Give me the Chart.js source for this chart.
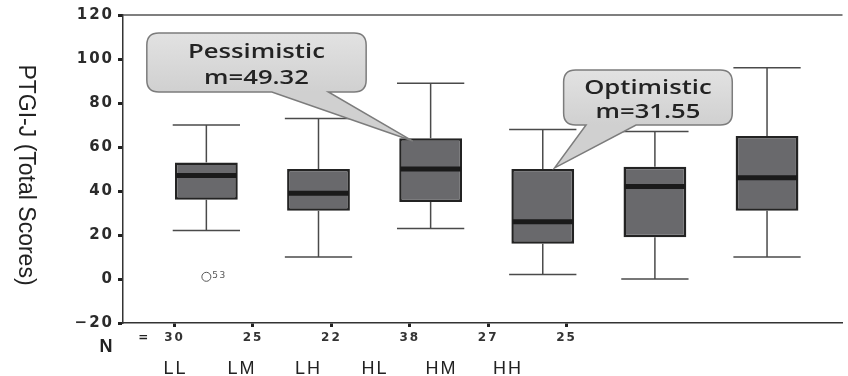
<!DOCTYPE html>
<html><head><meta charset="utf-8">
<script src="https://cdn.jsdelivr.net/npm/chart.js@4.4.1/dist/chart.umd.min.js"></script>
<style>html,body{margin:0;padding:0;background:#fff;}canvas{display:block;}</style>
</head><body>
<canvas id="c" width="848" height="376"></canvas>
<script>
// ---- data ----
const groups = ['LL', 'LM', 'LH', 'HL', 'HM', 'HH'];
const nCounts = ['30', '25', '22', '38', '27', '25'];
const whiskerLow = [22, 10, 23, 2, 0, 10];
const q1 = [36, 31, 35, 16, 19, 31];
const median = [47, 39, 50, 26, 42, 46];
const q3 = [53, 50, 64, 50, 51, 65];
const whiskerHigh = [70, 73, 89, 68, 67, 96];
const outlierGroup = [1];
const outlierValue = [1];
const outlierCase = ['53'];
const yTicks = [-20, 0, 20, 40, 60, 80, 100, 120];
const calloutTitles = ['Pessimistic', 'Optimistic'];
const calloutMeans = ['49.32', '31.55'];
const yTitle = 'PTGI-J (Total Scores)';

// ---- plugin: whiskers, medians, callouts, extra text ----
const boxPlugin = {
  id: 'boxExtras',
  beforeDraw(chart) { chart.ctx.letterSpacing = '2px'; },
  beforeDatasetsDraw(chart, args, opts) {
    const ctx = chart.ctx; ctx.letterSpacing = '0px';
    const xs = chart.scales.x, ys = chart.scales.y;
    const half = xs.getPixelForValue(1 + opts.capHalf) - xs.getPixelForValue(1);
    ctx.save();
    ctx.strokeStyle = '#4a4a4a'; ctx.lineWidth = 1.5;
    groups.forEach((g, i) => {
      const x = xs.getPixelForValue(i + 1);
      const pts = [[q3[i], whiskerHigh[i]], [q1[i], whiskerLow[i]]];
      pts.forEach(([a, b]) => {
        const ya = ys.getPixelForValue(a), yb = ys.getPixelForValue(b);
        ctx.beginPath(); ctx.moveTo(x, ya); ctx.lineTo(x, yb); ctx.stroke();
        ctx.beginPath(); ctx.moveTo(x - half, yb); ctx.lineTo(x + half, yb); ctx.stroke();
      });
    });
    ctx.restore();
  },
  afterDatasetsDraw(chart, args, opts) {
    const ctx = chart.ctx;
    const xs = chart.scales.x, ys = chart.scales.y;
    const meta = chart.getDatasetMeta(0);
    ctx.save();
    ctx.strokeStyle = '#1a1a1a'; ctx.lineWidth = 5;
    groups.forEach((g, i) => {
      const bar = meta.data[i];
      const y = ys.getPixelForValue(median[i]);
      ctx.beginPath(); ctx.moveTo(bar.x - bar.width / 2 + 1, y); ctx.lineTo(bar.x + bar.width / 2 - 1, y); ctx.stroke();
    });
    // outlier case labels
    ctx.fillStyle = '#555'; ctx.font = '9px "DejaVu Sans"'; ctx.textBaseline = 'middle'; ctx.textAlign = 'left';
    ctx.letterSpacing = '1.5px';
    outlierGroup.forEach((g, k) => {
      ctx.fillText(outlierCase[k], xs.getPixelForValue(g) + 6, ys.getPixelForValue(outlierValue[k]) - 1);
    });
    ctx.restore();
    // callouts
    opts.callouts.forEach((c, k) => {
      const L = xs.getPixelForValue(c.x0), R = xs.getPixelForValue(c.x1);
      const T = ys.getPixelForValue(c.yTop), B = ys.getPixelForValue(c.yBot);
      const tl = xs.getPixelForValue(c.tailL), tr = xs.getPixelForValue(c.tailR);
      const tx = xs.getPixelForValue(c.tipX), ty = ys.getPixelForValue(c.tipY);
      const r = 12;
      ctx.save();
      ctx.beginPath();
      ctx.moveTo(L + r, T);
      ctx.lineTo(R - r, T); ctx.quadraticCurveTo(R, T, R, T + r);
      ctx.lineTo(R, B - r); ctx.quadraticCurveTo(R, B, R - r, B);
      ctx.lineTo(tr, B); ctx.lineTo(tx, ty); ctx.lineTo(tl, B);
      ctx.lineTo(L + r, B); ctx.quadraticCurveTo(L, B, L, B - r);
      ctx.lineTo(L, T + r); ctx.quadraticCurveTo(L, T, L + r, T);
      ctx.closePath();
      const grad = ctx.createLinearGradient(0, T, 0, B);
      grad.addColorStop(0, '#e2e2e2'); grad.addColorStop(1, '#d0d0d0');
      ctx.fillStyle = grad; ctx.fill();
      ctx.strokeStyle = '#7c7c7c'; ctx.lineWidth = 1.5; ctx.stroke();
      ctx.fillStyle = '#232323'; ctx.font = '600 19px "Open Sans"';
      ctx.textAlign = 'center'; ctx.textBaseline = 'middle'; ctx.letterSpacing = '0px';
      const cx = (L + R) / 2, h = B - T;
      const sx = opts.textStretch;
      ctx.translate(cx, 0); ctx.scale(sx, 1);
      ctx.fillText(calloutTitles[k], 0, T + h * 0.34);
      ctx.fillText('m=' + calloutMeans[k], 0, T + h * 0.77);
      ctx.restore();
    });
  },
  afterDraw(chart) {
    const ctx = chart.ctx, a = chart.chartArea;
    const xn = chart.scales.xn;
    ctx.save();
    ctx.letterSpacing = '0px';
    ctx.strokeStyle = '#555'; ctx.lineWidth = 1.5;
    ctx.beginPath(); ctx.moveTo(a.left, a.top); ctx.lineTo(a.right, a.top); ctx.stroke();
    ctx.fillStyle = '#222'; ctx.textAlign = 'center'; ctx.textBaseline = 'middle';
    ctx.font = 'bold 18px "Liberation Sans"';
    ctx.fillText('N', a.left - 17, xn.top + 24);
    ctx.font = 'bold 12px "DejaVu Sans"';
    ctx.fillText('=', xn.getPixelForValue(0.6), xn.top + 15);
    // y-axis title, reading top to bottom
    ctx.font = '23px "Liberation Sans"';
    ctx.fillStyle = '#222';
    ctx.translate(25, (a.top + a.bottom) / 2 + 6);
    ctx.rotate(Math.PI / 2);
    ctx.fillText(yTitle, 0, 0);
    ctx.restore();
  }
};

const boxData = groups.map((g, i) => ({ x: i + 1, y: [q1[i], q3[i]] }));
const outlierData = outlierGroup.map((g, k) => ({ x: g, y: outlierValue[k] }));

new Chart(document.getElementById('c'), {
  type: 'bar',
  data: {
    datasets: [
      {
        type: 'bar', data: boxData, xAxisID: 'x', yAxisID: 'y',
        backgroundColor: '#69696c', borderColor: '#232323', borderWidth: 2.5, borderSkipped: false,
        categoryPercentage: 1, barPercentage: 0.832
      },
      {
        type: 'scatter', data: outlierData, xAxisID: 'x', yAxisID: 'y',
        pointStyle: 'circle', pointRadius: 4.5, backgroundColor: '#fff', borderColor: '#555', borderWidth: 1
      }
    ]
  },
  options: {
    responsive: false, animation: false, devicePixelRatio: 1,
    layout: { padding: { top: 15, right: 0, bottom: 0, left: 0 } },
    plugins: {
      legend: { display: false }, tooltip: { enabled: false },
      boxExtras: {
        capHalf: 0.3,
        textStretch: 1.35,
        callouts: [
          { x0: 0.469, x1: 2.425, yTop: 111.8, yBot: 85, tailL: 1.584, tailR: 2.088, tipX: 2.841, tipY: 62.7 },
          { x0: 4.186, x1: 5.69, yTop: 95, yBot: 70, tailL: 4.386, tailR: 4.832, tipX: 4.106, tipY: 50.5 }
        ]
      }
    },
    scales: {
      x: { type: 'linear', min: 0.2566, max: 6.673, offset: false, display: false },
      xn: {
        type: 'linear', position: 'bottom', weight: 1, min: 0.342, max: 9.519, offset: false,
        afterBuildTicks: s => { s.ticks = nCounts.map((n, i) => ({ value: i + 1 })); },
        ticks: {
          callback: v => nCounts[Math.round(v) - 1], autoSkip: false, maxRotation: 0,
          font: { family: 'DejaVu Sans', weight: 'bold', size: 12 }, color: '#333', padding: 4
        },
        grid: { offset: false, drawOnChartArea: false, tickLength: 4, tickWidth: 3, color: '#222' },
        border: { display: true, color: '#333', width: 1.5 },
        afterFit: s => { s.height = 22; }
      },
      xc: {
        type: 'linear', position: 'bottom', weight: 2, min: 0.209, max: 11.03, offset: false,
        afterBuildTicks: s => { s.ticks = groups.map((g, i) => ({ value: i + 1 })); },
        ticks: {
          callback: v => groups[Math.round(v) - 1], autoSkip: false, maxRotation: 0,
          font: { family: 'Liberation Sans', size: 18 }, color: '#222', padding: 13
        },
        grid: { offset: false, display: false, drawTicks: false },
        border: { display: false },
        afterFit: s => { s.height = 31; }
      },
      y: {
        min: -20, max: 120,
        afterBuildTicks: s => { s.ticks = yTicks.map(v => ({ value: v })); },
        ticks: {
          callback: v => String(v).replace('-', '\u2212'),
          font: { family: 'DejaVu Sans', weight: 'bold', size: 15 }, color: '#2b2b2b', padding: 4
        },
        grid: { drawOnChartArea: false, tickLength: 5, tickWidth: 3, color: '#222' },
        border: { display: true, color: '#333', width: 1.5 },
        afterFit: s => { s.width = 123; }
      }
    }
  },
  plugins: [boxPlugin]
});
</script>
</body></html>
